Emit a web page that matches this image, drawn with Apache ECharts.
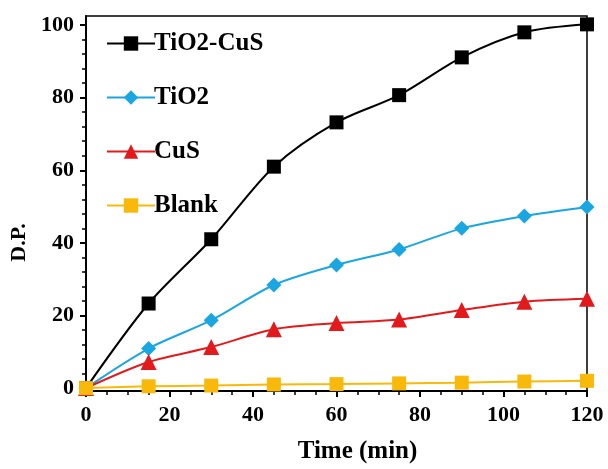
<!DOCTYPE html>
<html><head><meta charset="utf-8">
<script src="https://cdn.jsdelivr.net/npm/echarts@6/dist/echarts.min.js"></script>
<style>html,body{margin:0;padding:0;background:#fff}#c{width:608px;height:469px}</style>
</head><body><div id="c"></div>
<script>
const times = [0, 15, 30, 45, 60, 75, 90, 105, 120];
const tio2cus = [0, 23.3, 41, 61, 73.2, 80.7, 91.1, 98, 100.2];
const tio2 = [0, 10.9, 18.7, 28.4, 33.9, 38.2, 44, 47.4, 49.9];
const cus = [0, 7.2, 11.3, 16.2, 17.9, 18.9, 21.5, 23.8, 24.6];
const blank = [0, 0.5, 0.7, 1.0, 1.1, 1.3, 1.5, 1.8, 2.0];
const yMajor = [0, 20, 40, 60, 80, 100];
const yMinor = [4, 8, 12, 16, 24, 28, 32, 36, 44, 48, 52, 56, 64, 68, 72, 76, 84, 88, 92, 96];

const font = '"Liberation Serif", "Times New Roman", serif';
const pair = arr => times.map((t, i) => [t, arr[i]]);
const mk = (name, data, color, symbol, size) => ({
  name, type: 'line', data: pair(data), smooth: 0.3, symbol, symbolSize: size,
  lineStyle: { color, width: 2 }, itemStyle: { color }, yAxisIndex: 0
});
const chart = echarts.init(document.getElementById('c'), null, { renderer: 'canvas' });
chart.setOption({
  animation: false,
  backgroundColor: '#fff',
  grid: { left: 86, right: 21, top: 16, bottom: 78, show: true, borderColor: '#000', borderWidth: 1.5, backgroundColor: 'transparent' },
  legend: {
    orient: 'vertical', left: 101, top: 26, itemWidth: 48, itemHeight: 18, itemGap: 29,
    textStyle: { fontFamily: font, fontWeight: 'bold', fontSize: 25, color: '#000', padding: [0, 0, 0, -6] },
    data: ['TiO2-CuS', 'TiO2', 'CuS', 'Blank']
  },
  xAxis: {
    type: 'value', min: 0, max: 120, interval: 20,
    name: 'Time (min)', nameLocation: 'middle', nameGap: 48,
    nameTextStyle: { fontFamily: font, fontWeight: 'bold', fontSize: 25, color: '#000', padding: [0, 0, 0, 42] },
    axisLine: { onZero: false, lineStyle: { color: '#000', width: 2 } },
    axisTick: { length: 6, lineStyle: { color: '#000', width: 2 } },
    minorTick: { show: true, splitNumber: 4, length: 4, lineStyle: { color: '#000', width: 1.5 } },
    axisLabel: { margin: 13, fontFamily: font, fontWeight: 'bold', fontSize: 22, color: '#000' },
    splitLine: { show: false }
  },
  yAxis: [{
    type: 'value', min: -0.8, max: 102.5,
    name: 'D.P.', nameLocation: 'middle', nameGap: 43,
    nameTextStyle: { fontFamily: font, fontWeight: 'bold', fontSize: 22, color: '#000', padding: [0, 0, 0, -78] },
    axisLine: { lineStyle: { color: '#000', width: 2 } },
    axisTick: { length: 6, customValues: yMajor, lineStyle: { color: '#000', width: 2 } },
    axisLabel: { margin: 12, customValues: yMajor, fontFamily: font, fontWeight: 'bold', fontSize: 22, color: '#000' },
    splitLine: { show: false }
  }, {
    type: 'value', min: -0.8, max: 102.5, position: 'left',
    axisLine: { show: false },
    axisTick: { length: 4, customValues: yMinor, lineStyle: { color: '#000', width: 1.5 } },
    axisLabel: { show: false },
    splitLine: { show: false }
  }],
  series: [
    mk('TiO2-CuS', tio2cus, '#000000', 'rect', 14),
    mk('TiO2', tio2, '#1aa6e0', 'diamond', 15),
    mk('CuS', cus, '#e31a1c', 'triangle', 16),
    mk('Blank', blank, '#f9b90a', 'rect', 14)
  ]
});
</script></body></html>
